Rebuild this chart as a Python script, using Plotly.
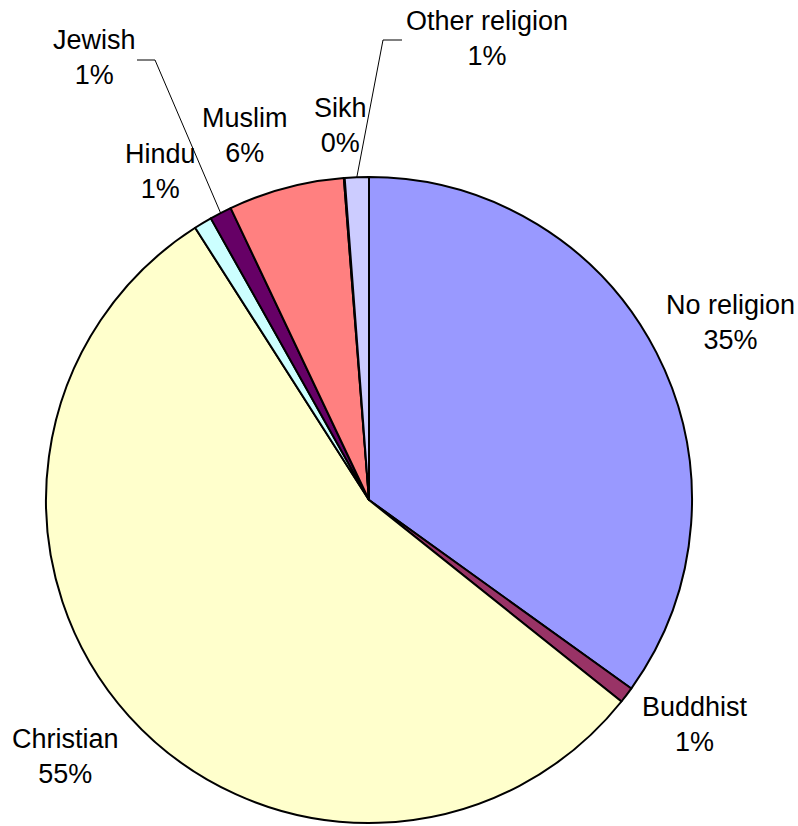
import math
import plotly.graph_objects as go

# Religion breakdown (percent of population)
religions = ["No religion", "Buddhist", "Christian", "Hindu", "Jewish",
             "Muslim", "Sikh", "Other religion"]
shares = [34.9, 0.8, 55.2, 0.9, 1.1, 5.8, 0.04, 1.2]
colors = ["#9999FF", "#993366", "#FFFFCC", "#CCFFFF", "#660066",
          "#FF8080", "#0066CC", "#CCCCFF"]

W, H = 798, 826
CX, CY, R = 369, 500, 323  # pie centre and radius in pixels

# label block centres (pixels) for each category
label_pos = {
    "No religion": (730, 322),
    "Buddhist": (695, 724),
    "Christian": (65, 756),
    "Hindu": (160, 171),
    "Jewish": (94, 58),
    "Muslim": (245, 135),
    "Sikh": (340, 125),
    "Other religion": (487, 38),
}
# labels that connect to their slice with a leader line: (elbow x, elbow y, text-side x)
leaders = {
    "Jewish": (155, 60, 137),
    "Other religion": (383, 40, 402),
}


def px(x):
    return x / W


def py(y):
    return 1 - y / H


fig = go.Figure(go.Pie(
    labels=religions,
    values=shares,
    sort=False,
    direction="clockwise",
    rotation=0,
    marker=dict(colors=colors, line=dict(color="black", width=2)),
    textinfo="none",
    hoverinfo="label+percent",
    showlegend=False,
    domain=dict(x=[px(CX - R), px(CX + R)], y=[py(CY + R), py(CY - R)]),
))

font = dict(family="Liberation Sans, Arial, sans-serif", size=27, color="black")
total = sum(shares)
annotations = []
shapes = []
cum = 0.0
for name, v in zip(religions, shares):
    mid = (cum + v / 2) / total * 2 * math.pi
    cum += v
    x, y = label_pos[name]
    annotations.append(dict(
        x=px(x), y=py(y), xref="paper", yref="paper",
        text=f"{name}<br>{round(v / total * 100)}%",
        showarrow=False, font=font, align="center",
        xanchor="center", yanchor="middle",
    ))
    if name in leaders:
        ex, ey, tx = leaders[name]
        # point on the slice's outer edge at its mid-angle
        sx = CX + R * math.sin(mid)
        sy = CY - R * math.cos(mid)
        path = f"M {px(tx)} {py(ey)} L {px(ex)} {py(ey)} L {px(sx)} {py(sy)}"
        shapes.append(dict(type="path", path=path, xref="paper", yref="paper",
                           line=dict(color="black", width=1)))

fig.update_layout(
    width=W, height=H,
    margin=dict(l=0, r=0, t=0, b=0),
    paper_bgcolor="white",
    plot_bgcolor="white",
    annotations=annotations,
    shapes=shapes,
)

fig.write_html("out.html")
